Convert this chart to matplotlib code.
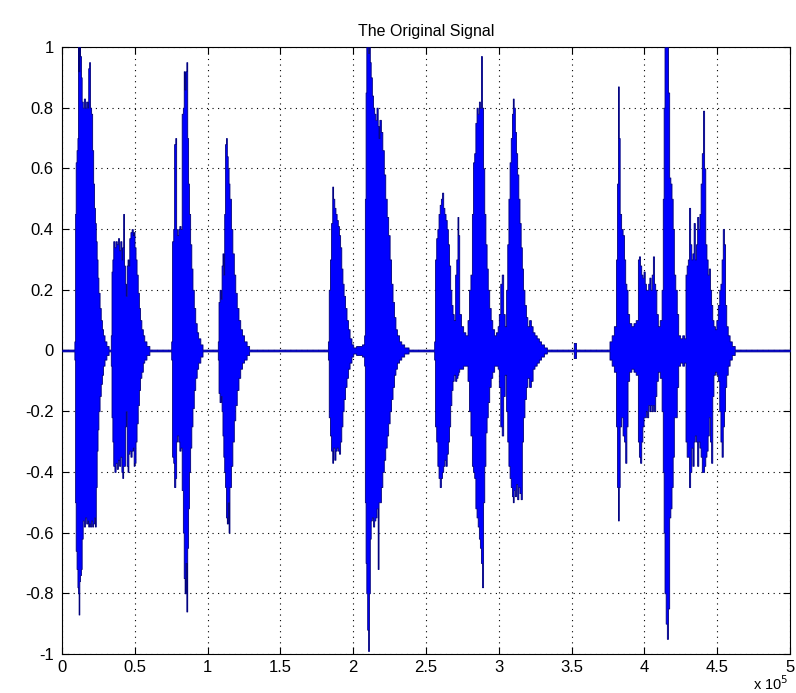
import numpy as np
import matplotlib.pyplot as plt

plt.rcParams['font.family'] = ['Liberation Sans', 'DejaVu Sans']

# envelope of the speech signal: (sample index / 1e5, upper peak, lower peak)
q = 0.003  # level of the idle hiss between words

lead = [(0.000, q, -q)]

burst_a = [
    (0.085, 0.03, -0.03), (0.090, 0.45, -0.50), (0.094, 0.62, -0.66),
    (0.100, 0.66, -0.72), (0.106, 0.70, -0.78), (0.110, 1.00, -0.80),
    (0.114, 0.92, -0.87), (0.119, 1.00, -0.76), (0.124, 0.97, -0.74),
    (0.130, 0.90, -0.72), (0.135, 0.82, -0.62), (0.142, 0.80, -0.56),
    (0.150, 0.83, -0.58), (0.158, 0.80, -0.55), (0.166, 0.82, -0.57),
    (0.174, 0.80, -0.56), (0.180, 0.93, -0.58), (0.186, 0.95, -0.57),
    (0.192, 0.80, -0.58), (0.200, 0.78, -0.56), (0.207, 0.66, -0.58),
    (0.214, 0.55, -0.57), (0.220, 0.47, -0.55), (0.226, 0.42, -0.58),
    (0.232, 0.36, -0.45), (0.238, 0.30, -0.33), (0.244, 0.24, -0.26),
    (0.250, 0.19, -0.20), (0.258, 0.14, -0.15), (0.266, 0.10, -0.11),
    (0.274, 0.07, -0.08), (0.282, 0.05, -0.05), (0.292, 0.03, -0.03),
    (0.305, 0.015, -0.015), (0.320, q, -q),
]

burst_b = [
    (0.335, 0.05, -0.05), (0.340, 0.26, -0.22), (0.346, 0.30, -0.30),
    (0.352, 0.36, -0.38), (0.360, 0.34, -0.40), (0.368, 0.36, -0.37),
    (0.376, 0.35, -0.39), (0.384, 0.37, -0.36), (0.392, 0.33, -0.38),
    (0.400, 0.36, -0.35), (0.408, 0.30, -0.40), (0.414, 0.34, -0.42),
    (0.420, 0.45, -0.38), (0.426, 0.28, -0.38), (0.432, 0.22, -0.25),
    (0.438, 0.18, -0.20), (0.444, 0.28, -0.38), (0.450, 0.30, -0.40),
    (0.456, 0.28, -0.34), (0.462, 0.37, -0.33), (0.470, 0.39, -0.35),
    (0.478, 0.40, -0.33), (0.486, 0.38, -0.32), (0.492, 0.39, -0.38),
    (0.498, 0.34, -0.37), (0.505, 0.30, -0.30), (0.512, 0.25, -0.24),
    (0.520, 0.19, -0.18), (0.528, 0.14, -0.13), (0.536, 0.10, -0.09),
    (0.545, 0.07, -0.07), (0.555, 0.05, -0.04), (0.565, 0.03, -0.03),
    (0.580, 0.015, -0.015), (0.600, q, -q),
]

burst_c = [
    (0.750, 0.03, -0.03), (0.756, 0.36, -0.35), (0.764, 0.40, -0.37),
    (0.770, 0.68, -0.45), (0.778, 0.70, -0.42), (0.784, 0.40, -0.30),
    (0.790, 0.38, -0.28), (0.798, 0.40, -0.30), (0.806, 0.41, -0.33),
    (0.814, 0.40, -0.32), (0.822, 0.78, -0.46), (0.830, 0.80, -0.60),
    (0.836, 0.92, -0.75), (0.842, 0.86, -0.80), (0.848, 0.92, -0.70),
    (0.854, 0.95, -0.86), (0.860, 0.70, -0.65), (0.866, 0.55, -0.52),
    (0.872, 0.45, -0.40), (0.880, 0.35, -0.32), (0.888, 0.27, -0.25),
    (0.896, 0.20, -0.19), (0.905, 0.14, -0.13), (0.915, 0.09, -0.09),
    (0.925, 0.06, -0.06), (0.935, 0.04, -0.04), (0.950, 0.02, -0.02),
    (0.965, q, -q),
]

burst_d = [
    (1.070, 0.03, -0.03), (1.075, 0.16, -0.14), (1.082, 0.20, -0.17),
    (1.090, 0.17, -0.15), (1.096, 0.28, -0.20), (1.102, 0.32, -0.28),
    (1.108, 0.25, -0.35), (1.114, 0.45, -0.40), (1.120, 0.68, -0.45),
    (1.126, 0.70, -0.55), (1.132, 0.64, -0.57), (1.138, 0.60, -0.50),
    (1.144, 0.55, -0.60), (1.150, 0.50, -0.45), (1.160, 0.40, -0.38),
    (1.170, 0.32, -0.30), (1.180, 0.25, -0.23), (1.190, 0.19, -0.18),
    (1.200, 0.14, -0.13), (1.212, 0.10, -0.09), (1.224, 0.07, -0.06),
    (1.236, 0.05, -0.04), (1.250, 0.03, -0.03), (1.268, 0.015, -0.015),
    (1.285, q, -q),
]

burst_e = [
    (1.826, 0.03, -0.03), (1.832, 0.20, -0.22), (1.840, 0.30, -0.28),
    (1.848, 0.42, -0.33), (1.856, 0.54, -0.37), (1.862, 0.50, -0.32),
    (1.870, 0.47, -0.36), (1.878, 0.45, -0.33), (1.886, 0.43, -0.32),
    (1.894, 0.41, -0.33), (1.902, 0.38, -0.34), (1.910, 0.34, -0.30),
    (1.918, 0.27, -0.25), (1.926, 0.22, -0.20), (1.934, 0.18, -0.16),
    (1.944, 0.14, -0.12), (1.954, 0.10, -0.09), (1.964, 0.07, -0.06),
    (1.975, 0.04, -0.04), (1.988, 0.02, -0.02), (2.000, 0.01, -0.01),
    (2.020, 0.015, -0.015), (2.060, 0.02, -0.02),
]

burst_f = [
    (2.075, 0.05, -0.05), (2.080, 0.50, -0.50), (2.085, 0.85, -0.70),
    (2.090, 1.00, -0.80), (2.096, 1.00, -0.92), (2.102, 0.98, -0.99),
    (2.108, 1.00, -0.80), (2.114, 0.95, -0.62), (2.120, 0.90, -0.56),
    (2.128, 0.84, -0.55), (2.136, 0.80, -0.58), (2.144, 0.78, -0.56),
    (2.152, 0.76, -0.55), (2.160, 0.80, -0.52), (2.168, 0.74, -0.72),
    (2.174, 0.70, -0.50), (2.180, 0.76, -0.50), (2.190, 0.72, -0.45),
    (2.200, 0.66, -0.40), (2.210, 0.58, -0.36), (2.220, 0.50, -0.32),
    (2.230, 0.44, -0.28), (2.240, 0.38, -0.24), (2.250, 0.30, -0.20),
    (2.260, 0.22, -0.16), (2.270, 0.16, -0.12), (2.280, 0.11, -0.08),
    (2.290, 0.07, -0.06), (2.300, 0.05, -0.04), (2.315, 0.03, -0.03),
    (2.330, 0.02, -0.02), (2.350, 0.01, -0.01), (2.380, q, -q),
]

burst_g = [
    (2.556, 0.03, -0.03), (2.562, 0.30, -0.25), (2.570, 0.37, -0.30),
    (2.578, 0.40, -0.38), (2.586, 0.45, -0.42), (2.594, 0.48, -0.45),
    (2.602, 0.50, -0.42), (2.610, 0.52, -0.40), (2.618, 0.47, -0.38),
    (2.626, 0.45, -0.36), (2.634, 0.43, -0.38), (2.642, 0.40, -0.34),
    (2.650, 0.35, -0.30), (2.658, 0.28, -0.25), (2.666, 0.20, -0.18),
    (2.674, 0.15, -0.13), (2.682, 0.12, -0.10), (2.690, 0.10, -0.08),
    (2.700, 0.25, -0.10), (2.708, 0.30, -0.09), (2.716, 0.44, -0.08),
    (2.722, 0.38, -0.07), (2.728, 0.12, -0.06), (2.740, 0.08, -0.06),
    (2.755, 0.06, -0.05), (2.770, 0.05, -0.05),
]

burst_h = [
    (2.785, 0.10, -0.10), (2.795, 0.20, -0.20), (2.805, 0.25, -0.28),
    (2.815, 0.45, -0.38), (2.823, 0.62, -0.40), (2.831, 0.65, -0.42),
    (2.839, 0.75, -0.52), (2.847, 0.80, -0.55), (2.855, 0.78, -0.58),
    (2.863, 0.82, -0.62), (2.870, 0.80, -0.65), (2.877, 0.97, -0.70),
    (2.884, 0.80, -0.78), (2.892, 0.60, -0.50), (2.900, 0.45, -0.38),
    (2.908, 0.35, -0.27), (2.916, 0.27, -0.22), (2.924, 0.20, -0.17),
    (2.934, 0.14, -0.12), (2.944, 0.10, -0.09), (2.955, 0.07, -0.07),
    (2.968, 0.05, -0.05), (2.980, 0.06, -0.05), (2.992, 0.08, -0.06),
    (3.000, 0.12, -0.12), (3.010, 0.22, -0.25), (3.020, 0.25, -0.28),
    (3.030, 0.12, -0.15), (3.040, 0.08, -0.08),
]

burst_i = [
    (3.050, 0.20, -0.20), (3.058, 0.35, -0.30), (3.066, 0.50, -0.38),
    (3.074, 0.62, -0.42), (3.082, 0.70, -0.45), (3.090, 0.78, -0.48),
    (3.096, 0.83, -0.50), (3.102, 0.80, -0.46), (3.110, 0.72, -0.48),
    (3.118, 0.65, -0.44), (3.126, 0.58, -0.49), (3.134, 0.50, -0.45),
    (3.142, 0.42, -0.47), (3.150, 0.34, -0.49), (3.158, 0.27, -0.30),
    (3.166, 0.20, -0.22), (3.176, 0.15, -0.16), (3.186, 0.11, -0.12),
    (3.196, 0.08, -0.09), (3.208, 0.10, -0.12), (3.220, 0.08, -0.10),
    (3.232, 0.06, -0.06), (3.245, 0.05, -0.05), (3.260, 0.04, -0.04),
    (3.275, 0.03, -0.03), (3.290, 0.02, -0.02), (3.310, 0.01, -0.01),
    (3.330, q, -q), (3.515, 0.025, -0.025), (3.530, q, -q),
]

burst_jkl = [
    (3.760, 0.03, -0.03), (3.775, 0.05, -0.05), (3.790, 0.08, -0.07),
    (3.805, 0.30, -0.25), (3.812, 0.55, -0.45), (3.818, 0.87, -0.56),
    (3.824, 0.70, -0.45), (3.830, 0.45, -0.25), (3.840, 0.40, -0.22),
    (3.850, 0.38, -0.28), (3.860, 0.30, -0.30), (3.868, 0.22, -0.37),
    (3.876, 0.20, -0.25), (3.884, 0.12, -0.10), (3.895, 0.09, -0.07),
    (3.910, 0.08, -0.06), (3.925, 0.09, -0.07), (3.940, 0.10, -0.08),
    (3.955, 0.30, -0.30), (3.962, 0.31, -0.35), (3.970, 0.28, -0.37),
    (3.978, 0.25, -0.30), (3.986, 0.24, -0.25), (3.994, 0.26, -0.22),
    (4.002, 0.22, -0.22), (4.010, 0.20, -0.20), (4.018, 0.20, -0.22),
    (4.026, 0.22, -0.18), (4.034, 0.24, -0.20), (4.042, 0.20, -0.18),
    (4.050, 0.25, -0.20), (4.058, 0.31, -0.18), (4.066, 0.22, -0.20),
    (4.074, 0.20, -0.15), (4.082, 0.12, -0.10), (4.092, 0.08, -0.07),
    (4.105, 0.10, -0.09), (4.118, 0.20, -0.20), (4.126, 0.50, -0.40),
    (4.132, 0.80, -0.60), (4.138, 1.00, -0.80), (4.146, 1.00, -0.90),
    (4.154, 1.00, -0.95), (4.162, 0.85, -0.85), (4.170, 0.57, -0.55),
    (4.178, 0.55, -0.52), (4.186, 0.50, -0.45), (4.194, 0.40, -0.35),
    (4.202, 0.25, -0.22), (4.212, 0.20, -0.22), (4.222, 0.12, -0.12),
    (4.232, 0.05, -0.05), (4.245, 0.04, -0.04), (4.260, 0.05, -0.05),
    (4.272, 0.04, -0.04), (4.282, 0.25, -0.30), (4.290, 0.28, -0.35),
    (4.298, 0.30, -0.35), (4.306, 0.47, -0.45), (4.314, 0.35, -0.40),
    (4.322, 0.30, -0.32), (4.330, 0.32, -0.38), (4.338, 0.42, -0.30),
    (4.346, 0.30, -0.28), (4.354, 0.35, -0.30), (4.362, 0.44, -0.38),
    (4.370, 0.40, -0.30), (4.378, 0.45, -0.32), (4.386, 0.55, -0.35),
    (4.394, 0.65, -0.40), (4.402, 0.79, -0.40), (4.410, 0.60, -0.38),
    (4.418, 0.35, -0.35), (4.426, 0.30, -0.33), (4.434, 0.25, -0.28),
    (4.442, 0.27, -0.22), (4.450, 0.20, -0.30), (4.458, 0.15, -0.37),
    (4.466, 0.10, -0.15), (4.474, 0.08, -0.08), (4.484, 0.07, -0.07),
    (4.494, 0.10, -0.08), (4.504, 0.15, -0.10), (4.514, 0.20, -0.20),
    (4.522, 0.22, -0.30), (4.530, 0.30, -0.35), (4.538, 0.40, -0.25),
    (4.546, 0.35, -0.20), (4.554, 0.15, -0.12), (4.562, 0.08, -0.08),
    (4.572, 0.05, -0.05), (4.585, 0.03, -0.03), (4.600, 0.015, -0.015),
    (4.620, q, -q),
]

trail = [(5.000, q, -q)]

x_ticks = [0, 0.5, 1, 1.5, 2, 2.5, 3, 3.5, 4, 4.5, 5]
x_labels = ['0', '0.5', '1', '1.5', '2', '2.5', '3', '3.5', '4', '4.5', '5']
y_ticks = [-1, -0.8, -0.6, -0.4, -0.2, 0, 0.2, 0.4, 0.6, 0.8, 1]
y_labels = ['-1', '-0.8', '-0.6', '-0.4', '-0.2', '0', '0.2', '0.4', '0.6', '0.8', '1']

segments = [lead, burst_a, burst_b, burst_c, burst_d, burst_e, burst_f,
            burst_g, burst_h, burst_i, burst_jkl, trail]
env = np.array([row for seg in segments for row in seg])
n = env[:, 0] * 1e5
hi = env[:, 1]
lo = env[:, 2]

fig = plt.figure(figsize=(7.96, 6.93), dpi=100)
ax = fig.add_axes([0.0779, 0.0563, 0.9146, 0.8759])

ax.fill_between(n, lo, hi, step='post', facecolor='#0000ff',
                edgecolor='#00007a', linewidth=0.6, zorder=3)

ax.set_xlim(0, 5e5)
ax.set_ylim(-1, 1)
ax.set_xticks([t * 1e5 for t in x_ticks])
ax.set_xticklabels(x_labels)
ax.set_yticks(y_ticks)
ax.set_yticklabels(y_labels)
ax.grid(True, color='black', linestyle=(0, (1, 4)), linewidth=0.8)
ax.tick_params(direction='in', top=True, right=True, length=5,
               labelsize=12, pad=6)
ax.tick_params(axis='x', pad=4)
for s in ax.spines.values():
    s.set_linewidth(0.8)

ax.set_title('The Original Signal', fontsize=11.5, pad=8)
# exponent of the sample axis, in the bottom right corner
fig.text(0.99, 0.0, r'x 10$^5$', ha='right', va='bottom', fontsize=10.5)

fig.savefig('out.png', dpi=100)
